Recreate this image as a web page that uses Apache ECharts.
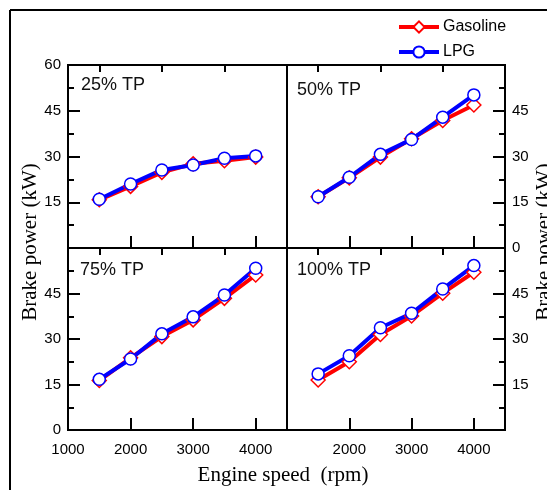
<!DOCTYPE html>
<html><head><meta charset="utf-8">
<script src="https://cdn.jsdelivr.net/npm/echarts@6/dist/echarts.min.js"></script>
<style>html,body{margin:0;padding:0;background:#fff}#c{width:547px;height:490px}</style>
</head><body><div id="c"></div>
<script>
const rpm = [1500, 2000, 2500, 3000, 3500, 4000];
const gas25 = [15.8, 20.2, 24.8, 27.6, 28.6, 29.8];
const lpg25 = [16.0, 21.0, 25.6, 27.2, 29.4, 30.2];
const gas50 = [16.8, 23.0, 29.8, 35.8, 41.8, 46.9];
const lpg50 = [16.8, 23.2, 30.7, 35.6, 42.9, 50.2];
const gas75 = [16.3, 23.8, 30.8, 36.3, 43.4, 51.1];
const lpg75 = [16.7, 23.4, 31.7, 37.3, 44.5, 53.3];
const gas100 = [16.5, 22.5, 31.5, 37.6, 45.1, 52.0];
const lpg100 = [18.5, 24.5, 33.7, 38.5, 46.5, 54.2];
const panelLabels = ['25% TP', '50% TP', '75% TP', '100% TP'];
const seriesNames = ['Gasoline', 'LPG'];
const xMajorTicks = [2000, 3000, 4000];
const xMinorTicks = [1500, 2500, 3500];
const xLabelsLeft = [1000, 2000, 3000, 4000];
const xLabelsRight = [2000, 3000, 4000];
const yLabelSets = [[15, 30, 45, 60], [0, 15, 30, 45], [0, 15, 30, 45], [15, 30, 45]];
const yTitle = 'Brake power (kW)';
const xTitle = 'Engine speed  (rpm)';

const gasData = [gas25, gas50, gas75, gas100];
const lpgData = [lpg25, lpg50, lpg75, lpg100];

const grids = [
  {left: 68, top: 65, width: 219, height: 183},
  {left: 287, top: 65, width: 218, height: 183},
  {left: 68, top: 248, width: 219, height: 182},
  {left: 287, top: 248, width: 218, height: 182}
];
const labelPos = [[81, 85], [297, 90], [80, 270], [297, 270]];
const sans = 'Liberation Sans';
const serif = 'Liberation Serif';

const xAxis = [], yAxis = [], series = [], graphic = [];
grids.forEach((g, i) => {
  g.show = true; g.borderColor = '#000'; g.borderWidth = 2; g.containLabel = false;
  const bottom = i >= 2;
  xAxis.push({
    type: 'value', gridIndex: i, min: 1000, max: 4500, interval: 1000,
    axisLine: {show: true, lineStyle: {color: '#000', width: 2}},
    axisTick: {show: true, inside: true, length: 12, lineStyle: {color: '#000', width: 2}, customValues: xMajorTicks},
    axisLabel: {show: bottom, customValues: i === 2 ? xLabelsLeft : xLabelsRight, margin: 12,
      formatter: v => String(v), color: '#000', fontFamily: sans, fontSize: 15},
    splitLine: {show: false}
  });
  xAxis.push({
    type: 'value', gridIndex: i, min: 1000, max: 4500, interval: 1000,
    axisLine: {show: false},
    axisTick: {show: true, inside: true, length: 7, lineStyle: {color: '#000', width: 2}, customValues: xMinorTicks},
    axisLabel: {show: false},
    splitLine: {show: false}
  });
  yAxis.push({
    type: 'value', gridIndex: i, min: 0, max: 60, interval: 15,
    position: (i % 2 === 0) ? 'left' : 'right',
    axisLine: {show: true, lineStyle: {color: '#000', width: 2}},
    axisTick: {show: true, inside: true, length: 12, lineStyle: {color: '#000', width: 2}},
    minorTick: {show: true, splitNumber: 2, length: 6, lineStyle: {color: '#000', width: 2}},
    axisLabel: {customValues: yLabelSets[i], margin: 7, formatter: v => String(v), color: '#000', fontFamily: sans, fontSize: 15},
    splitLine: {show: false}, minorSplitLine: {show: false}
  });
  series.push({
    name: seriesNames[0], type: 'line', xAxisIndex: 2 * i, yAxisIndex: i,
    data: rpm.map((x, k) => [x, gasData[i][k]]),
    symbol: 'diamond', symbolSize: 14, showAllSymbol: true,
    lineStyle: {color: '#ff0000', width: 4},
    itemStyle: {color: '#ffffff', borderColor: '#ff0000', borderWidth: 1.5}
  });
  series.push({
    name: seriesNames[1], type: 'line', xAxisIndex: 2 * i, yAxisIndex: i,
    data: rpm.map((x, k) => [x, lpgData[i][k]]),
    symbol: 'circle', symbolSize: 12, showAllSymbol: true,
    lineStyle: {color: '#0000ff', width: 4},
    itemStyle: {color: '#ffffff', borderColor: '#0000ff', borderWidth: 1.5}
  });
  graphic.push({
    type: 'text', x: labelPos[i][0], y: labelPos[i][1],
    style: {text: panelLabels[i], font: '18px "' + sans + '"', fill: '#111', textVerticalAlign: 'middle'}
  });
});

graphic.push({type: 'line', shape: {x1: 10, y1: 10, x2: 547, y2: 10}, style: {stroke: '#000', lineWidth: 2}});
graphic.push({type: 'line', shape: {x1: 10, y1: 10, x2: 10, y2: 490}, style: {stroke: '#000', lineWidth: 2}});
graphic.push({type: 'text', x: 30, y: 242, rotation: Math.PI / 2,
  style: {text: yTitle, font: '21px "' + serif + '"', fill: '#000', textAlign: 'center', textVerticalAlign: 'middle'}});
graphic.push({type: 'text', x: 544, y: 242, rotation: Math.PI / 2,
  style: {text: yTitle, font: '21px "' + serif + '"', fill: '#000', textAlign: 'center', textVerticalAlign: 'middle'}});
graphic.push({type: 'text', x: 283, y: 475,
  style: {text: xTitle, font: '21px "' + serif + '"', fill: '#000', textAlign: 'center', textVerticalAlign: 'middle'}});

const chart = echarts.init(document.getElementById('c'), null, {renderer: 'canvas'});
chart.setOption({
  animation: false,
  backgroundColor: '#fff',
  grid: grids, xAxis: xAxis, yAxis: yAxis, series: series, graphic: graphic,
  legend: {
    data: seriesNames, orient: 'vertical', left: 392, top: 14,
    itemWidth: 40, itemHeight: 14, itemGap: 9,
    lineStyle: {width: 4},
    textStyle: {color: '#000', fontFamily: sans, fontSize: 16, padding: [0, 0, 0, -1]}
  }
});
</script></body></html>
